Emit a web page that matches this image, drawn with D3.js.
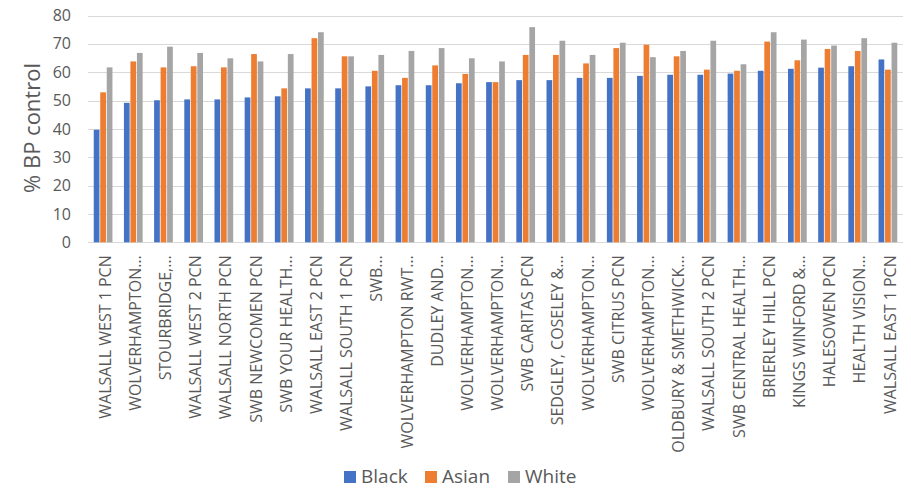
<!DOCTYPE html>
<html><head><meta charset="utf-8">
<script src="https://cdn.jsdelivr.net/npm/d3@7"></script>
<style>body{margin:0;background:#fff}svg{display:block}text{font-family:"Open Sans",sans-serif;fill:#595959}</style>
</head><body><svg id="c" width="911" height="488"></svg>
<script>
const categories = ["WALSALL WEST 1 PCN","WOLVERHAMPTON…","STOURBRIDGE,…","WALSALL WEST 2 PCN","WALSALL NORTH PCN","SWB NEWCOMEN PCN","SWB YOUR HEALTH…","WALSALL EAST 2 PCN","WALSALL SOUTH 1 PCN","SWB…","WOLVERHAMPTON RWT…","DUDLEY AND…","WOLVERHAMPTON…","WOLVERHAMPTON…","SWB CARITAS PCN","SEDGLEY, COSELEY &…","WOLVERHAMPTON…","SWB CITRUS PCN","WOLVERHAMPTON…","OLDBURY & SMETHWICK…","WALSALL SOUTH 2 PCN","SWB CENTRAL HEALTH…","BRIERLEY HILL PCN","KINGS WINFORD &…","HALESOWEN PCN","HEALTH VISION…","WALSALL EAST 1 PCN"];
const black = [39.7,49.2,50.1,50.4,50.4,51.1,51.5,54.3,54.3,55.0,55.4,55.4,56.1,56.5,57.2,57.2,58.0,58.0,58.7,59.1,59.1,59.5,60.5,61.2,61.6,62.1,64.5];
const asian = [52.9,63.8,61.7,62.1,61.7,66.4,54.3,72.0,65.6,60.5,58.0,62.4,59.4,56.5,66.1,66.1,63.1,68.5,69.7,65.6,60.9,60.5,70.8,64.2,68.2,67.5,60.9];
const white = [61.7,66.8,69.0,66.8,64.9,63.8,66.4,74.1,65.6,66.1,67.5,68.5,64.9,63.8,75.9,71.1,66.1,70.4,65.3,67.5,71.1,62.8,74.1,71.5,69.4,72.0,70.4];
const seriesNames = ["Black","Asian","White"];
const seriesColors = ["#4472C4","#ED7D31","#A5A5A5"];
const yTicks = [0,10,20,30,40,50,60,70,80];

const seriesValues = [black, asian, white];
const svg = d3.select("#c");
const L = 88, R = 903, T = 15.5, B = 242.3;
const x = d3.scaleBand().domain(d3.range(categories.length)).range([L,R]).paddingInner(0.38).paddingOuter(0.19);
const xs = d3.scaleBand().domain(seriesNames).range([0,x.bandwidth()]).paddingInner(0.12);
const y = d3.scaleLinear().domain([0,80]).range([B,T]);

svg.append("g").selectAll("line").data(yTicks).join("line")
  .attr("x1",L).attr("x2",R).attr("y1",d=>Math.round(y(d))+0.5).attr("y2",d=>Math.round(y(d))+0.5)
  .attr("stroke","#d9d9d9").attr("stroke-width",1);

const yAxis = svg.append("g").attr("transform",`translate(${L},0)`)
  .call(d3.axisLeft(y).tickValues(yTicks).tickSize(0).tickPadding(17));
yAxis.select(".domain").remove();
yAxis.selectAll("text").style("font-size","16px").attr("fill","#595959").style("font-family","Open Sans");

const g = svg.append("g");
categories.forEach((c,i)=>{
  seriesNames.forEach((s,j)=>{
    g.append("rect").attr("x",x(i)+xs(s)).attr("width",xs.bandwidth())
      .attr("y",y(seriesValues[j][i])).attr("height",y(0)-y(seriesValues[j][i]))
      .attr("fill",seriesColors[j]);
  });
});

const xAxis = svg.append("g").attr("transform",`translate(0,${B})`)
  .call(d3.axisBottom(x).tickFormat(i=>categories[i]).tickSize(0));
xAxis.select(".domain").remove();
xAxis.selectAll("text").attr("transform",d=>`translate(${x.bandwidth()/2+2},13) rotate(-90)`)
  .attr("x",0).attr("y",0).attr("dy","0.35em").attr("text-anchor","end")
  .style("font-size","16px").style("font-family","Open Sans").attr("fill","#595959");
xAxis.selectAll(".tick").attr("transform",d=>`translate(${x(d)},0)`);

svg.append("text").attr("transform","translate(40,128) rotate(-90)").attr("text-anchor","middle")
  .style("font-size","22px").text("% BP control");

const legX = [344,425,508];
const leg = svg.append("g");
seriesNames.forEach((s,j)=>{
  leg.append("rect").attr("x",legX[j]).attr("y",471).attr("width",12).attr("height",12).attr("fill",seriesColors[j]);
  leg.append("text").attr("x",legX[j]+17).attr("y",483).style("font-size","19px").text(s);
});
</script></body></html>
